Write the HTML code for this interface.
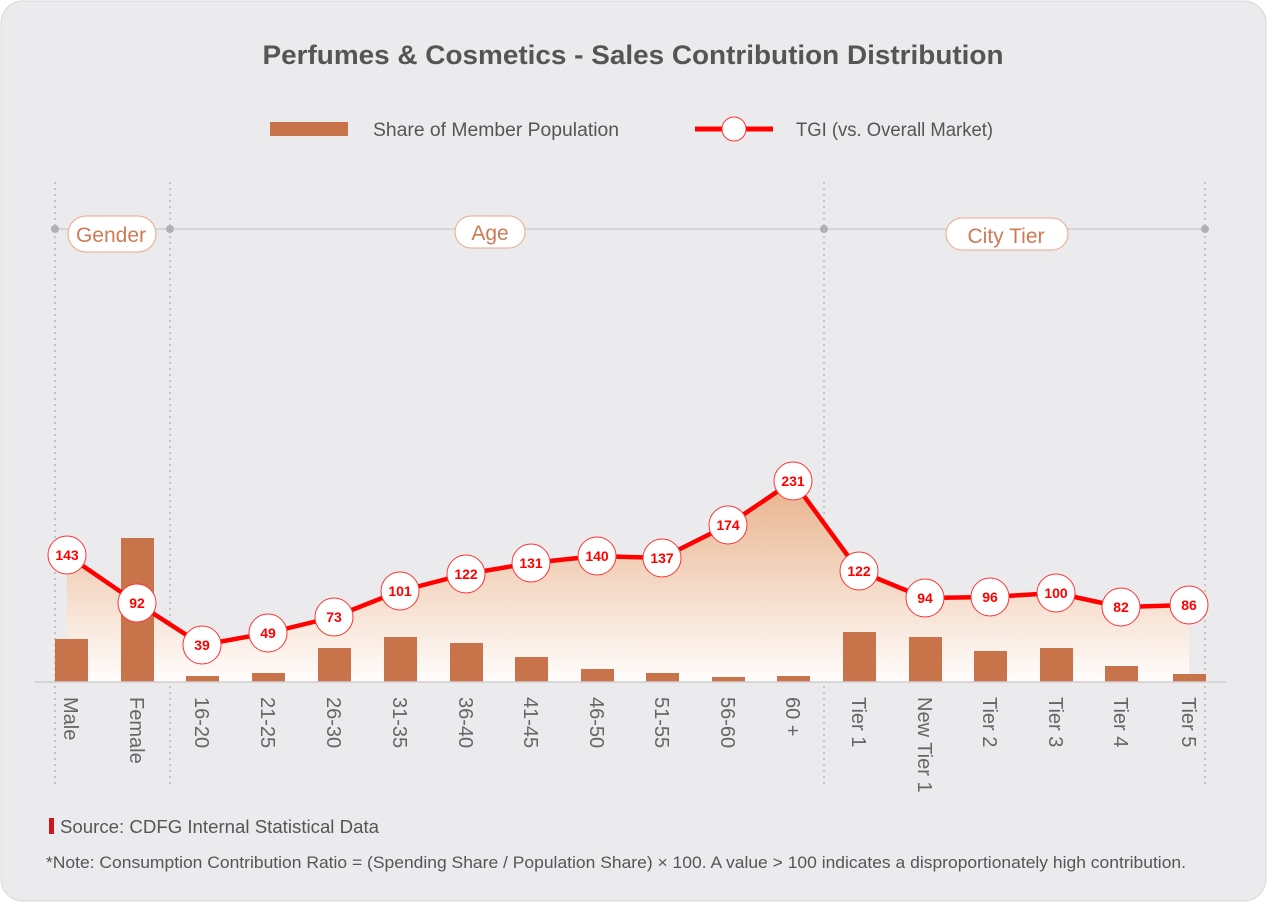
<!DOCTYPE html>
<html><head><meta charset="utf-8"><style>
html,body{margin:0;padding:0;background:#fff;}
svg{display:block;font-family:"Liberation Sans",sans-serif;}
</style></head><body>
<svg width="1267" height="902" viewBox="0 0 1267 902">
<defs>
<linearGradient id="g" x1="0" y1="481" x2="0" y2="682" gradientUnits="userSpaceOnUse">
<stop offset="0" stop-color="#e8b28c"/><stop offset="1" stop-color="#fffdfc"/>
</linearGradient>
</defs>
<rect x="1" y="1" width="1265" height="900" rx="22" fill="#ebebed" stroke="#d8d8da"/>
<text x="633" y="64" text-anchor="middle" font-size="27" font-weight="bold" fill="#555" textLength="741" lengthAdjust="spacingAndGlyphs">Perfumes &amp; Cosmetics - Sales Contribution Distribution</text>
<rect x="270" y="122" width="78" height="14" fill="#c8734a"/>
<text x="373" y="136" font-size="19" fill="#555" textLength="246" lengthAdjust="spacingAndGlyphs">Share of Member Population</text>
<line x1="695" y1="129" x2="773" y2="129" stroke="#f00" stroke-width="5"/>
<ellipse cx="734" cy="129" rx="12" ry="12" fill="#fff" stroke="#f33"/>
<text x="796" y="136" font-size="19" fill="#555" textLength="197" lengthAdjust="spacingAndGlyphs">TGI (vs. Overall Market)</text>
<g stroke="#c4c4c6" stroke-width="2" stroke-dasharray="2,4">
<line x1="55" y1="182" x2="55" y2="785"/><line x1="170" y1="182" x2="170" y2="785"/>
<line x1="824" y1="182" x2="824" y2="785"/><line x1="1205" y1="182" x2="1205" y2="785"/>
</g>
<line x1="55" y1="229" x2="1205" y2="229" stroke="#d0d0d2" stroke-width="1.5"/>
<g fill="#b0b0b2"><circle cx="55" cy="229" r="4"/><circle cx="170" cy="229" r="4"/><circle cx="824" cy="229" r="4"/><circle cx="1205" cy="229" r="4"/></g>
<g fill="#fff" stroke="#e9a68a"><rect x="68" y="216" width="88" height="36" rx="18"/><rect x="455" y="216" width="70" height="32" rx="16"/><rect x="946" y="218" width="122" height="32" rx="16"/></g>
<g font-size="21" fill="#d07a55" text-anchor="middle"><text x="111" y="242">Gender</text><text x="490" y="240">Age</text><text x="1006" y="243">City Tier</text></g>
<polygon fill="url(#g)" points="67,682 67,555 137,603 202,645 268,633 334,617 400,591 466,574 531,563 597,556 662,558 728,525 793,481 859,571 925,598 990,597 1056,593 1121,607 1189,605 1189,682"/>
<g fill="#c8734a">
<rect x="55" y="639" width="33" height="43"/><rect x="121" y="538" width="33" height="144"/>
<rect x="186" y="676" width="33" height="6"/><rect x="252" y="673" width="33" height="9"/>
<rect x="318" y="648" width="33" height="34"/><rect x="384" y="637" width="33" height="45"/>
<rect x="450" y="643" width="33" height="39"/><rect x="515" y="657" width="33" height="25"/>
<rect x="581" y="669" width="33" height="13"/><rect x="646" y="673" width="33" height="9"/>
<rect x="712" y="677" width="33" height="5"/><rect x="777" y="676" width="33" height="6"/>
<rect x="843" y="632" width="33" height="50"/><rect x="909" y="637" width="33" height="45"/>
<rect x="974" y="651" width="33" height="31"/><rect x="1040" y="648" width="33" height="34"/>
<rect x="1105" y="666" width="33" height="16"/><rect x="1173" y="674" width="33" height="8"/>
</g>
<line x1="35" y1="682" x2="1226" y2="682" stroke="#cfcfd1" stroke-width="1.5"/>
<polyline fill="none" stroke="#f00" stroke-width="4.5" stroke-linejoin="round" points="67,555 137,603 202,645 268,633 334,617 400,591 466,574 531,563 597,556 662,558 728,525 793,481 859,571 925,598 990,597 1056,593 1121,607 1189,605"/>
<g fill="#fff" stroke="#f33" stroke-width="1">
<circle cx="67" cy="555" r="19"/><circle cx="137" cy="603" r="19"/><circle cx="202" cy="645" r="19"/><circle cx="268" cy="633" r="19"/><circle cx="334" cy="617" r="19"/><circle cx="400" cy="591" r="19"/><circle cx="466" cy="574" r="19"/><circle cx="531" cy="563" r="19"/><circle cx="597" cy="556" r="19"/><circle cx="662" cy="558" r="19"/><circle cx="728" cy="525" r="19"/><circle cx="793" cy="481" r="19"/><circle cx="859" cy="571" r="19"/><circle cx="925" cy="598" r="19"/><circle cx="990" cy="597" r="19"/><circle cx="1056" cy="593" r="19"/><circle cx="1121" cy="607" r="19"/><circle cx="1189" cy="605" r="19"/>
</g>
<g fill="#f00" font-size="14" font-weight="bold" text-anchor="middle">
<text x="67" y="560">143</text><text x="137" y="608">92</text><text x="202" y="650">39</text><text x="268" y="638">49</text><text x="334" y="622">73</text><text x="400" y="596">101</text><text x="466" y="579">122</text><text x="531" y="568">131</text><text x="597" y="561">140</text><text x="662" y="563">137</text><text x="728" y="530">174</text><text x="793" y="486">231</text><text x="859" y="576">122</text><text x="925" y="603">94</text><text x="990" y="602">96</text><text x="1056" y="598">100</text><text x="1121" y="612">82</text><text x="1189" y="610">86</text>
</g>
<g fill="#666" font-size="20">
<text transform="translate(64,697) rotate(90)">Male</text>
<text transform="translate(130,697) rotate(90)">Female</text>
<text transform="translate(195,697) rotate(90)">16-20</text>
<text transform="translate(261,697) rotate(90)">21-25</text>
<text transform="translate(327,697) rotate(90)">26-30</text>
<text transform="translate(393,697) rotate(90)">31-35</text>
<text transform="translate(459,697) rotate(90)">36-40</text>
<text transform="translate(524,697) rotate(90)">41-45</text>
<text transform="translate(590,697) rotate(90)">46-50</text>
<text transform="translate(655,697) rotate(90)">51-55</text>
<text transform="translate(721,697) rotate(90)">56-60</text>
<text transform="translate(786,697) rotate(90)">60 +</text>
<text transform="translate(852,697) rotate(90)">Tier 1</text>
<text transform="translate(918,697) rotate(90)">New Tier 1</text>
<text transform="translate(983,697) rotate(90)">Tier 2</text>
<text transform="translate(1049,697) rotate(90)">Tier 3</text>
<text transform="translate(1114,697) rotate(90)">Tier 4</text>
<text transform="translate(1182,697) rotate(90)">Tier 5</text>
</g>
<rect x="49" y="818" width="5" height="16" fill="#d0141c"/>
<text x="60" y="833" font-size="18" fill="#555" textLength="319" lengthAdjust="spacingAndGlyphs">Source: CDFG Internal Statistical Data</text>
<text x="46" y="868" font-size="17" fill="#555" textLength="1140" lengthAdjust="spacingAndGlyphs">*Note: Consumption Contribution Ratio = (Spending Share / Population Share) × 100. A value &gt; 100 indicates a disproportionately high contribution.</text>
</svg>
</body></html>
